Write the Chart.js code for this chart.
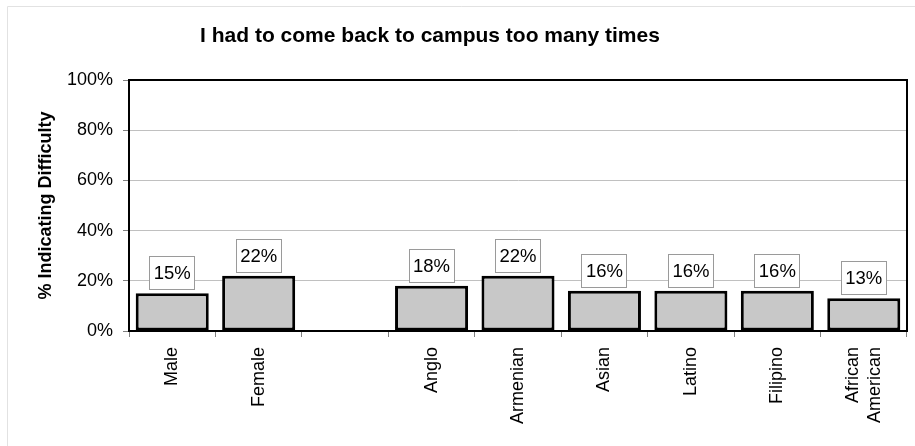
<!DOCTYPE html>
<html>
<head>
<meta charset="utf-8">
<script src="https://cdn.jsdelivr.net/npm/chart.js@4/dist/chart.umd.min.js"></script>
<style>
  html, body { margin: 0; padding: 0; background: #ffffff; }
  #wrap { width: 915px; height: 446px; position: relative; }
</style>
</head>
<body>
<div id="wrap"><canvas id="chart" width="915" height="446"></canvas></div>
<script>
// Survey results: share of students reporting this difficulty, by group
const chartTitle = 'I had to come back to campus too many times';
const yAxisTitle = '% Indicating Difficulty';
const categories = ['Male', 'Female', '', 'Anglo', 'Armenian', 'Asian', 'Latino', 'Filipino', ['African', 'American']];
const percentValues = [15, 22, null, 18, 22, 16, 16, 16, 13];
const yTickValues = [0, 20, 40, 60, 80, 100];

const FONT = '"Liberation Sans", Arial, Helvetica, sans-serif';

// White background plus the faint outer frame of the figure
const backdropPlugin = {
  id: 'backdrop',
  beforeDraw(chart) {
    const ctx = chart.ctx;
    ctx.save();
    ctx.fillStyle = '#ffffff';
    ctx.fillRect(0, 0, chart.width, chart.height);
    ctx.strokeStyle = '#e2e2e2';
    ctx.lineWidth = 1;
    ctx.beginPath();
    ctx.moveTo(7.5, chart.height);
    ctx.lineTo(7.5, 6.5);
    ctx.lineTo(chart.width, 6.5);
    ctx.stroke();
    ctx.restore();
  }
};

// Black box around the plotting area
const plotFramePlugin = {
  id: 'plotFrame',
  afterDatasetsDraw(chart) {
    const { ctx, chartArea: a } = chart;
    ctx.save();
    ctx.strokeStyle = '#000000';
    ctx.lineWidth = 2;
    ctx.strokeRect(a.left, a.top, a.right - a.left, a.bottom - a.top);
    ctx.restore();
  }
};

// Boxed percentage labels above each bar
const valueBoxPlugin = {
  id: 'valueBoxes',
  afterDatasetsDraw(chart) {
    const ctx = chart.ctx;
    const meta = chart.getDatasetMeta(0);
    const data = chart.data.datasets[0].data;
    ctx.save();
    ctx.font = '18.5px ' + FONT;
    ctx.textAlign = 'center';
    ctx.textBaseline = 'middle';
    meta.data.forEach((bar, i) => {
      const v = data[i];
      if (v === null || v === undefined) return;
      const text = v + '%';
      const w = Math.round(ctx.measureText(text).width) + 9;
      const h = 34;
      const bottom = Math.round(bar.y) - 3;
      const left = Math.round(bar.x - w / 2);
      ctx.fillStyle = '#ffffff';
      ctx.fillRect(left, bottom - h, w, h);
      ctx.strokeStyle = '#9a9a9a';
      ctx.lineWidth = 1;
      ctx.strokeRect(left + 0.5, bottom - h + 0.5, w - 1, h - 1);
      ctx.fillStyle = '#000000';
      ctx.fillText(text, bar.x, bottom - h / 2 + 1);
    });
    ctx.restore();
  }
};

// Vertical category names under the axis, multi-line names centred on their tick
const categoryLabelPlugin = {
  id: 'categoryLabels',
  afterDraw(chart) {
    const ctx = chart.ctx;
    const xScale = chart.scales.x;
    const top = xScale.top + 16;
    const lineGap = 22;
    ctx.save();
    ctx.font = '18px ' + FONT;
    ctx.fillStyle = '#000000';
    ctx.textAlign = 'right';
    ctx.textBaseline = 'middle';
    chart.data.labels.forEach((label, i) => {
      const lines = Array.isArray(label) ? label : [label];
      const cx = xScale.getPixelForValue(i);
      lines.forEach((line, j) => {
        const x = cx + (j - (lines.length - 1) / 2) * lineGap;
        ctx.save();
        ctx.translate(x, top);
        ctx.rotate(-Math.PI / 2);
        ctx.fillText(line, 0, 0);
        ctx.restore();
      });
    });
    ctx.restore();
  }
};

// Chart heading
const headingPlugin = {
  id: 'heading',
  afterDraw(chart) {
    const ctx = chart.ctx;
    ctx.save();
    ctx.font = 'bold 21px ' + FONT;
    ctx.fillStyle = '#000000';
    ctx.textAlign = 'center';
    ctx.textBaseline = 'alphabetic';
    ctx.fillText(chartTitle, 430, 41.5);
    ctx.restore();
  }
};

new Chart(document.getElementById('chart'), {
  type: 'bar',
  data: {
    labels: categories,
    datasets: [{
      data: percentValues,
      backgroundColor: '#c8c8c8',
      borderColor: '#000000',
      borderWidth: 3,
      borderSkipped: false,
      categoryPercentage: 1.0,
      barPercentage: 0.845
    }]
  },
  options: {
    responsive: false,
    animation: false,
    devicePixelRatio: 1,
    layout: { padding: { top: 80, right: 8, left: 0, bottom: 0 } },
    plugins: {
      legend: { display: false },
      title: { display: false },
      tooltip: { enabled: false }
    },
    scales: {
      x: {
        offset: true,
        grid: {
          offset: true,
          drawOnChartArea: false,
          drawTicks: true,
          tickLength: 6,
          tickColor: '#808080'
        },
        border: { color: '#000000', width: 2 },
        ticks: {
          display: false,
          autoSkip: false
        },
        afterFit(scale) { scale.height = 115; }
      },
      y: {
        min: 0,
        max: 100,
        afterBuildTicks(scale) {
          scale.ticks = yTickValues.map(v => ({ value: v }));
        },
        grid: {
          color: '#c0c0c0',
          lineWidth: 1,
          tickLength: 6,
          tickColor: '#808080'
        },
        border: { color: '#000000', width: 2 },
        ticks: {
          padding: 10,
          color: '#000000',
          font: { family: FONT, size: 18 },
          callback: v => v + '%'
        },
        title: {
          display: true,
          text: yAxisTitle,
          color: '#000000',
          font: { family: FONT, size: 18, weight: 'bold' },
          padding: { top: 35, bottom: 0 }
        },
        afterFit(scale) { scale.width = 129; }
      }
    }
  },
  plugins: [backdropPlugin, plotFramePlugin, valueBoxPlugin, categoryLabelPlugin, headingPlugin]
});
</script>
</body>
</html>
